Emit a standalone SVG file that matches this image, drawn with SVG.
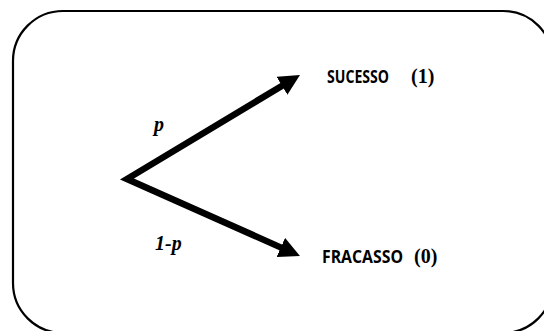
<svg xmlns="http://www.w3.org/2000/svg" width="544" height="331" viewBox="0 0 544 331">
<style>
.frame{fill:#fff;stroke:#000;stroke-width:2.2}
.conn{fill:none;stroke:#000;stroke-width:6.5;stroke-linejoin:miter;stroke-miterlimit:10}
.lbl{font-family:"Open Sans","Liberation Sans",sans-serif;font-weight:bold;font-size:18px;fill:#000}
.num{font-family:"Liberation Serif",serif;font-weight:bold;font-size:20px;fill:#000}
.prob{font-family:"Liberation Serif",serif;font-weight:bold;font-style:italic;font-size:20px;fill:#000}
</style>
<defs>
<marker id="ah" markerUnits="userSpaceOnUse" markerWidth="21" markerHeight="21" refX="9" refY="10.5" orient="auto-start-reverse">
<path d="M0,0 L21,10.5 L0,21 z" fill="#000"/>
</marker>
</defs>
<rect class="frame" x="13" y="11" width="540" height="322" rx="50" ry="50"/>
<g id="connectors">
<path class="conn" d="M289.7,81.2 L127,179 L289,251.1" marker-start="url(#ah)" marker-end="url(#ah)"/>
</g>
<g id="label-p"><text class="prob" x="154" y="131">p</text></g>
<g id="label-1-p"><text class="prob" x="155" y="250">1-p</text></g>
<g id="sucesso">
<text class="lbl" x="327" y="83" textLength="62" lengthAdjust="spacingAndGlyphs">SUCESSO</text>
<text class="num" x="411" y="83">(1)</text>
</g>
<g id="fracasso">
<text class="lbl" x="322" y="263" textLength="81" lengthAdjust="spacingAndGlyphs">FRACASSO</text>
<text class="num" x="414" y="263">(0)</text>
</g>
</svg>
